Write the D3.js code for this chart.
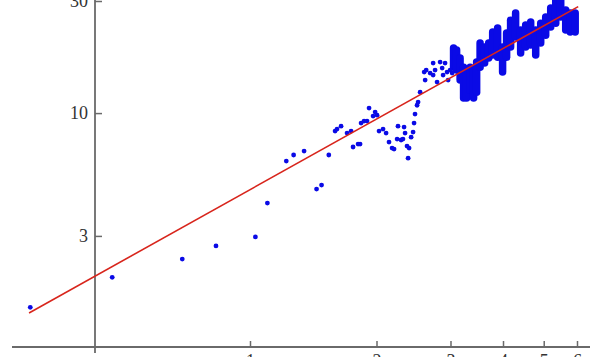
<!DOCTYPE html>
<html lang="en">
<head>
<meta charset="UTF-8">
<title>Log-log scatter with fit</title>
<script src="https://d3js.org/d3.v7.min.js"></script>
<style>
  body { margin: 0; background: #fff; }
  svg { display: block; }
  .tick text { font-family: "Liberation Serif", "DejaVu Serif", serif; font-size: 18px; fill: #333; }
</style>
</head>
<body>
<script>
// scattered points (x, y)
const sparseX = [0.30, 0.47, 0.69, 0.83, 1.03, 1.10, 1.22, 1.27, 1.345, 1.44, 1.48, 1.54,
  1.594, 1.611, 1.647, 1.702, 1.740, 1.759, 1.808, 1.828, 1.838, 1.868, 1.899, 1.920,
  1.963, 1.985, 2.006, 2.028, 2.073, 2.108, 2.142, 2.178, 2.202, 2.239, 2.250, 2.288,
  2.312, 2.339, 2.326, 2.364, 2.391, 2.378, 2.418, 2.444, 2.457, 2.470, 2.498, 2.512,
  2.540, 2.597, 2.626, 2.611, 2.683, 2.728, 2.728, 2.757, 2.787, 2.834, 2.866, 2.881,
  2.912, 2.944, 2.961, 2.994, 3.027];
const sparseY = [1.49, 2.00, 2.39, 2.72, 2.97, 4.14, 6.25, 6.63, 6.89, 4.75, 4.94, 6.63,
  8.38, 8.55, 8.80, 8.22, 8.38, 7.17, 7.38, 7.38, 9.07, 9.25, 9.25, 10.5,
  9.71, 10.1, 9.80, 8.38, 8.55, 8.22, 7.53, 7.10, 7.03, 7.75, 8.80, 7.68,
  7.75, 8.22, 8.72, 7.24, 7.10, 6.43, 7.90, 8.30, 9.07, 9.90, 10.8, 11.14,
  12.28, 14.95, 15.24, 13.82, 14.8, 16.32, 14.51, 15.24, 13.55, 16.48, 15.54, 14.51,
  16.32, 14.95, 13.82, 15.24, 14.8];

// dense region: x with low / high of the band of points
const denseX = [3.051, 3.102, 3.162, 3.223, 3.277, 3.341, 3.405, 3.462, 3.528, 3.617,
  3.698, 3.780, 3.884, 3.991, 4.080, 4.17, 4.286, 4.406, 4.529, 4.655,
  4.785, 4.918, 5.054, 5.195, 5.340, 5.488, 5.640, 5.781, 5.941];
const denseLow = [15.69, 15.24, 13.82, 11.58, 11.58, 12.53, 11.58, 12.28, 15.69, 16.32,
  17.14, 17.65, 17.30, 14.95, 17.30, 19.09, 21.06, 18.0, 19.09, 19.47,
  17.65, 19.86, 21.47, 23.23, 24.15, 25.62, 22.55, 22.12, 22.12];
const denseHigh = [18.91, 18.54, 17.14, 15.69, 14.95, 15.69, 15.24, 16.48, 19.86, 19.09,
  19.86, 22.12, 23.0, 19.09, 21.9, 24.87, 26.64, 22.55, 23.69, 24.39,
  22.55, 24.15, 25.62, 27.98, 30.3, 30.3, 27.44, 26.64, 26.64];

// fitted line end points
const fitX = [0.298, 6.04];
const fitY = [1.41, 28.4];

const xTicks = [1, 2, 3, 4, 5, 6];
const yTicks = [3, 10, 30];

const width = 600, height = 357;
const svg = d3.select("body").append("svg").attr("width", width).attr("height", height);

const x = d3.scaleLog().domain([1, 6]).range([250, 577]);
const y = d3.scaleLog().domain([1, 30]).range([348, 1]);

const axisColor = "#6a6a6a";
const xAxisY = 347, yAxisX = 95;

// axis lines
svg.append("line").attr("x1", 12).attr("x2", 590).attr("y1", xAxisY).attr("y2", xAxisY)
  .attr("stroke", axisColor).attr("stroke-width", 1.8);
svg.append("line").attr("x1", yAxisX).attr("x2", yAxisX).attr("y1", 0).attr("y2", 353)
  .attr("stroke", axisColor).attr("stroke-width", 1.8);

// x axis ticks (pointing up)
const gx = svg.append("g").attr("transform", `translate(0,${xAxisY})`)
  .call(d3.axisBottom(x).tickValues(xTicks).tickFormat(d3.format("d"))
    .tickSizeInner(-6).tickSizeOuter(0).tickPadding(7));
gx.select(".domain").remove();
gx.selectAll(".tick line").attr("stroke", axisColor).attr("stroke-width", 1.5);

// y axis ticks (pointing right)
const gy = svg.append("g").attr("transform", `translate(${yAxisX},0)`)
  .call(d3.axisLeft(y).tickValues(yTicks).tickFormat(d3.format("d"))
    .tickSizeInner(-7).tickSizeOuter(0).tickPadding(7));
gy.select(".domain").remove();
gy.selectAll(".tick line").attr("stroke", axisColor).attr("stroke-width", 1.5);

const blue = "#0a0ae6";

// dense band
svg.append("g").selectAll("line")
  .data(denseX.map((d, i) => [d, denseLow[i], denseHigh[i]]))
  .enter().append("line")
  .attr("x1", d => x(d[0])).attr("x2", d => x(d[0]))
  .attr("y1", d => y(d[1])).attr("y2", d => y(d[2]))
  .attr("stroke", blue).attr("stroke-width", 7.5).attr("stroke-linecap", "round");

// scattered points
svg.append("g").selectAll("circle")
  .data(sparseX.map((d, i) => [d, sparseY[i]]))
  .enter().append("circle")
  .attr("cx", d => x(d[0])).attr("cy", d => y(d[1]))
  .attr("r", 2.4).attr("fill", blue);

// fit line
svg.append("path")
  .datum(fitX.map((d, i) => [d, fitY[i]]))
  .attr("d", d3.line().x(d => x(d[0])).y(d => y(d[1])))
  .attr("fill", "none").attr("stroke", "#d8251c").attr("stroke-width", 1.6);
</script>
</body>
</html>
